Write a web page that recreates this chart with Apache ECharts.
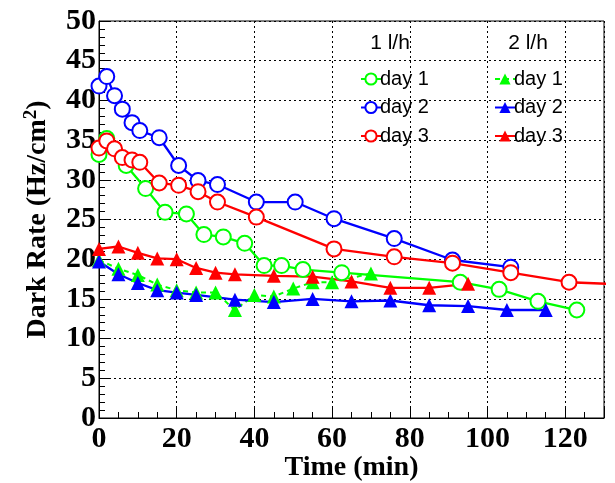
<!DOCTYPE html>
<html>
<head>
<meta charset="utf-8">
<script src="https://cdn.jsdelivr.net/npm/echarts@6/dist/echarts.min.js"></script>
<style>html,body{margin:0;padding:0;background:#fff;}#c{width:615px;height:483px;}</style>
</head>
<body>
<div id="c"></div>
<script>
// 1 l/h
const g1T = [0, 2, 7, 12, 17, 22.5, 27, 32, 37.5, 42.5, 47, 52.5, 62.5, 93, 103, 113, 123];
const g1V = [33.2, 35.2, 31.8, 28.9, 25.9, 25.7, 23.1, 22.8, 22.0, 19.2, 19.2, 18.7, 18.3, 17.1, 16.2, 14.7, 13.6];
const b1T = [0, 2, 4, 6, 8.5, 10.5, 15.5, 20.5, 25.5, 30.5, 40.5, 50.5, 60.5, 76, 91, 106];
const b1V = [41.8, 43.0, 40.6, 38.9, 37.2, 36.2, 35.3, 31.8, 29.9, 29.4, 27.2, 27.2, 25.1, 22.6, 19.9, 19.0];
const r1T = [0, 2, 4, 6, 8.5, 10.5, 15.5, 20.5, 25.5, 30.5, 40.5, 60.5, 76, 91, 106, 121];
const r1V = [34.0, 34.9, 33.9, 32.8, 32.5, 32.2, 29.6, 29.3, 28.5, 27.2, 25.3, 21.3, 20.3, 19.5, 18.3, 17.1];
const r1TailT = [131];
const r1TailV = [16.9];
// 2 l/h
const g2T = [0, 5, 10, 15, 20, 25, 30, 35, 40, 45, 50, 55, 60, 70];
const g2V = [19.9, 18.8, 18.0, 16.8, 16.1, 15.8, 15.8, 13.6, 15.5, 15.3, 16.3, 17.1, 17.1, 18.2];
const b2T = [0, 5, 10, 15, 20, 25, 35, 45, 55, 65, 75, 85, 95, 105, 115];
const b2V = [19.7, 18.1, 17.0, 16.1, 15.8, 15.5, 14.9, 14.6, 15.0, 14.7, 14.8, 14.2, 14.1, 13.6, 13.6];
const r2T = [0, 5, 10, 15, 20, 25, 30, 35, 45, 55, 65, 75, 85, 95];
const r2V = [21.3, 21.6, 20.8, 20.1, 20.0, 18.9, 18.3, 18.1, 17.9, 17.8, 17.2, 16.4, 16.4, 16.9];

const xTicks = [0, 20, 40, 60, 80, 100, 120];
const yTicks = [0, 5, 10, 15, 20, 25, 30, 35, 40, 45, 50];
const headers = ['1 l/h', '2 l/h'];

function pairs(t, v) { return t.map((x, i) => [x, v[i]]); }

const GREEN = '#00ff00', BLUE = '#0000ff', RED = '#ff0000';
const serif = 'Liberation Serif';
const sans = 'Liberation Sans';

function circleSeries(name, color, data) {
  return {
    name: name, type: 'line', data: data,
    symbol: 'emptyCircle', symbolSize: 15, showSymbol: true,
    lineStyle: { color: color, width: 2.3 },
    itemStyle: { color: color, borderColor: color, borderWidth: 1 },
    emphasis: { disabled: true }, clip: true
  };
}
function triSeries(name, color, data, dashed) {
  return {
    name: name, type: 'line', data: data,
    symbol: 'triangle', symbolSize: 14,
    lineStyle: { color: color, width: dashed ? 2 : 2.3, type: dashed ? [5, 4] : 'solid' },
    itemStyle: { color: color },
    emphasis: { disabled: true }, clip: true
  };
}

const redData = pairs(r1T, r1V).concat(pairs(r1TailT, r1TailV).map(p => ({ value: p, symbol: 'none' })));

const legendCommon = {
  orient: 'vertical', top: 64, itemWidth: 20, itemHeight: 14, itemGap: 8.5,
  textStyle: { fontFamily: sans, fontSize: 20, color: '#000', padding: [0, 0, 0, -6] },
  selectedMode: false
};

const chart = echarts.init(document.getElementById('c'));
chart.setOption({
  animation: false,
  backgroundColor: '#fff',
  grid: { left: 99, right: 11, top: 21, bottom: 65, show: true, borderColor: '#000', borderWidth: 1,
    backgroundColor: 'transparent', outerBoundsMode: 'none', containLabel: false },
  xAxis: {
    type: 'value', min: 0, max: 130, interval: 20,
    name: 'Time (min)', nameLocation: 'middle', nameGap: 36, nameMoveOverlap: false,
    nameTextStyle: { fontFamily: serif, fontWeight: 'bold', fontSize: 28, color: '#000' },
    axisLine: { show: true, onZero: false, lineStyle: { color: '#000', width: 1 } },
    axisTick: { show: true, inside: true, length: 12, lineStyle: { color: '#000' } },
    minorTick: { show: true, splitNumber: 4, length: 6, lineStyle: { color: '#000' } },
    axisLabel: { fontFamily: serif, fontWeight: 'bold', fontSize: 30, color: '#000', margin: 6,
      formatter: v => (xTicks.indexOf(v) >= 0 ? String(v) : ''), showMaxLabel: false },
    splitLine: { show: true, lineStyle: { color: '#000', type: [2, 3], width: 1 } }
  },
  yAxis: {
    type: 'value', min: 0, max: 50, interval: 5,
    name: '{a|Dark Rate (Hz/cm}{s|2}{a|)}', nameLocation: 'middle', nameGap: 46, nameRotate: 90, nameMoveOverlap: false,
    nameTextStyle: {
      fontFamily: serif, fontWeight: 'bold', fontSize: 28, color: '#000',
      rich: {
        a: { fontFamily: serif, fontWeight: 'bold', fontSize: 28, color: '#000' },
        s: { fontFamily: serif, fontWeight: 'bold', fontSize: 19, color: '#000', verticalAlign: 'top', padding: [0, 0, 12, 0] }
      }
    },
    axisLine: { show: true, onZero: false, lineStyle: { color: '#000', width: 1 } },
    axisTick: { show: true, inside: true, length: 12, lineStyle: { color: '#000' } },
    minorTick: { show: true, splitNumber: 5, length: 6, lineStyle: { color: '#000' } },
    axisLabel: { fontFamily: serif, fontWeight: 'bold', fontSize: 30, color: '#000', margin: 3,
      formatter: v => (yTicks.indexOf(v) >= 0 ? String(v) : '') },
    splitLine: { show: true, lineStyle: { color: '#000', type: [2, 3], width: 1 } }
  },
  legend: [
    Object.assign({}, legendCommon, {
      data: ['1 l/h day 1', '1 l/h day 2', '1 l/h day 3'], left: 355,
      formatter: n => n.replace('1 l/h ', '')
    }),
    Object.assign({}, legendCommon, {
      data: ['2 l/h day 1', '2 l/h day 2', '2 l/h day 3'], left: 489,
      formatter: n => n.replace('2 l/h ', '')
    })
  ],
  graphic: [
    { type: 'text', x: 390, y: 43, style: { text: headers[0], font: '21px "Liberation Sans"', fill: '#000', align: 'center', verticalAlign: 'middle' } },
    { type: 'text', x: 528, y: 43, style: { text: headers[1], font: '21px "Liberation Sans"', fill: '#000', align: 'center', verticalAlign: 'middle' } }
  ],
  series: [
    circleSeries('1 l/h day 1', GREEN, pairs(g1T, g1V)),
    circleSeries('1 l/h day 2', BLUE, pairs(b1T, b1V)),
    circleSeries('1 l/h day 3', RED, redData),
    triSeries('2 l/h day 1', GREEN, pairs(g2T, g2V), true),
    triSeries('2 l/h day 2', BLUE, pairs(b2T, b2V), false),
    triSeries('2 l/h day 3', RED, pairs(r2T, r2V), false)
  ]
});
</script>
</body>
</html>
